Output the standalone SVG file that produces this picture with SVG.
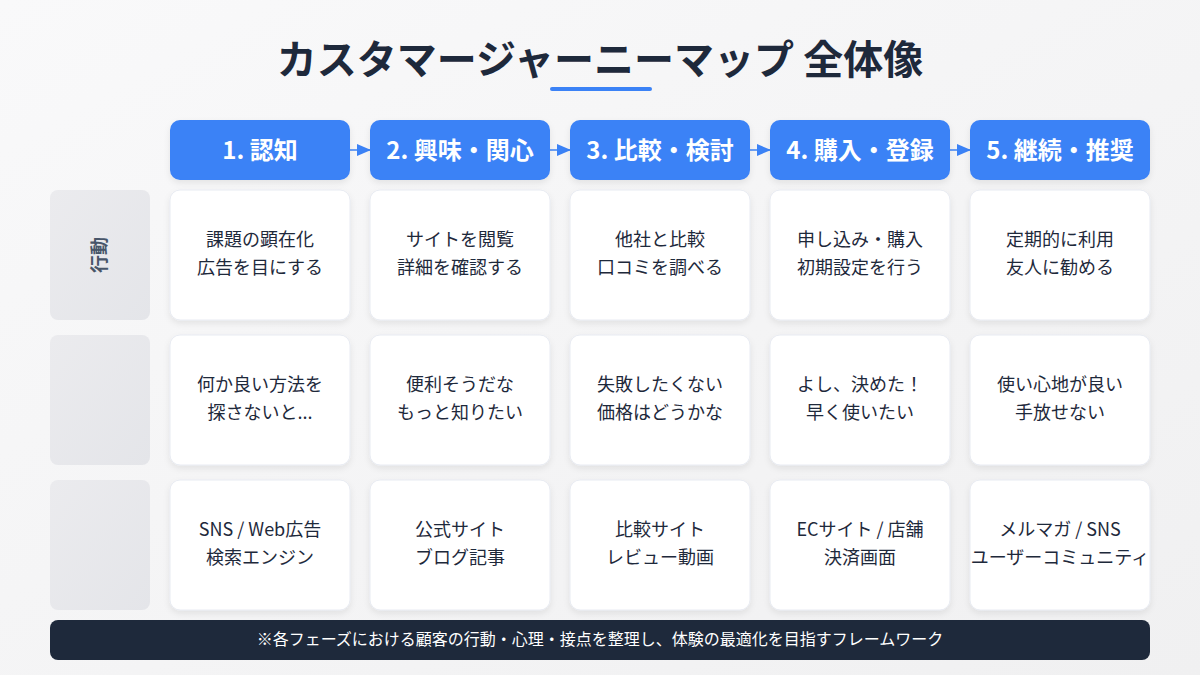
<svg xmlns="http://www.w3.org/2000/svg" width="1200" height="675" viewBox="0 0 1200 675">
<defs>
<linearGradient id="bg" x1="0" y1="0" x2="1" y2="1">
<stop offset="0" stop-color="#f9f9fa"/>
<stop offset="1" stop-color="#f0f0f1"/>
</linearGradient>
<linearGradient id="lab" x1="0" y1="0" x2="1" y2="1">
<stop offset="0" stop-color="#ebebee"/>
<stop offset="1" stop-color="#e4e5e9"/>
</linearGradient>
<filter id="sh" x="-10%" y="-10%" width="120%" height="125%">
<feDropShadow dx="0" dy="3" stdDeviation="3" flood-color="#000" flood-opacity="0.08"/>
</filter>
<marker id="arr" markerWidth="14" markerHeight="12" refX="13" refY="6" orient="auto" markerUnits="userSpaceOnUse">
<path d="M0,0 L14,6 L0,12 Z" fill="#3b82f6"/>
</marker>
<style>
.t{font-family:"Noto Sans CJK JP","Noto Sans",sans-serif;}
.title{font-size:40px;font-weight:700;fill:#1e293b;}
.hd{fill:#3b82f6;filter:url(#sh);}
.hdt{font-size:24px;font-weight:700;fill:#ffffff;}
.cell{fill:#ffffff;stroke:#e8ebf2;stroke-width:1;filter:url(#sh);}
.ct{font-size:18px;font-weight:400;fill:#1e293b;}
.lab{fill:url(#lab);}
.labt{font-size:18px;font-weight:700;fill:#475569;}
.conn{stroke:#3b82f6;stroke-width:1.5;fill:none;}
.ft{font-size:16px;fill:#ffffff;}
</style>
</defs>
<rect width="1200" height="675" fill="url(#bg)"/>
<g id="title">
<text class="t title" x="600" y="74" text-anchor="middle">カスタマージャーニーマップ 全体像</text>
<rect x="550" y="87" width="102" height="4" rx="2" fill="#3b82f6"/>
</g>
<g id="connectors">
<line class="conn" x1="350" y1="150" x2="370" y2="150" marker-end="url(#arr)"/>
<line class="conn" x1="550" y1="150" x2="570" y2="150" marker-end="url(#arr)"/>
<line class="conn" x1="750" y1="150" x2="770" y2="150" marker-end="url(#arr)"/>
<line class="conn" x1="950" y1="150" x2="970" y2="150" marker-end="url(#arr)"/>
</g>
<g id="phase1"><rect class="hd" x="170" y="120" width="180" height="60" rx="10"/><text class="t hdt" x="260" y="159" text-anchor="middle">1. 認知</text></g>
<g id="phase2"><rect class="hd" x="370" y="120" width="180" height="60" rx="10"/><text class="t hdt" x="460" y="159" text-anchor="middle">2. 興味・関心</text></g>
<g id="phase3"><rect class="hd" x="570" y="120" width="180" height="60" rx="10"/><text class="t hdt" x="660" y="159" text-anchor="middle">3. 比較・検討</text></g>
<g id="phase4"><rect class="hd" x="770" y="120" width="180" height="60" rx="10"/><text class="t hdt" x="860" y="159" text-anchor="middle">4. 購入・登録</text></g>
<g id="phase5"><rect class="hd" x="970" y="120" width="180" height="60" rx="10"/><text class="t hdt" x="1060" y="159" text-anchor="middle">5. 継続・推奨</text></g>
<g id="label-row1"><rect class="lab" x="50" y="190" width="100" height="130" rx="8"/><text class="t labt" transform="translate(100,255) rotate(-90)" x="0" y="6" text-anchor="middle">行動</text></g>
<g id="label-row2"><rect class="lab" x="50" y="335" width="100" height="130" rx="8"/></g>
<g id="label-row3"><rect class="lab" x="50" y="480" width="100" height="130" rx="8"/></g>
<g id="r1c1"><rect class="cell" x="170" y="190" width="180" height="130" rx="10"/><text class="t ct" x="260" y="246" text-anchor="middle">課題の顕在化</text><text class="t ct" x="260" y="274" text-anchor="middle">広告を目にする</text></g>
<g id="r1c2"><rect class="cell" x="370" y="190" width="180" height="130" rx="10"/><text class="t ct" x="460" y="246" text-anchor="middle">サイトを閲覧</text><text class="t ct" x="460" y="274" text-anchor="middle">詳細を確認する</text></g>
<g id="r1c3"><rect class="cell" x="570" y="190" width="180" height="130" rx="10"/><text class="t ct" x="660" y="246" text-anchor="middle">他社と比較</text><text class="t ct" x="660" y="274" text-anchor="middle">口コミを調べる</text></g>
<g id="r1c4"><rect class="cell" x="770" y="190" width="180" height="130" rx="10"/><text class="t ct" x="860" y="246" text-anchor="middle">申し込み・購入</text><text class="t ct" x="860" y="274" text-anchor="middle">初期設定を行う</text></g>
<g id="r1c5"><rect class="cell" x="970" y="190" width="180" height="130" rx="10"/><text class="t ct" x="1060" y="246" text-anchor="middle">定期的に利用</text><text class="t ct" x="1060" y="274" text-anchor="middle">友人に勧める</text></g>
<g id="r2c1"><rect class="cell" x="170" y="335" width="180" height="130" rx="10"/><text class="t ct" x="260" y="391" text-anchor="middle">何か良い方法を</text><text class="t ct" x="260" y="419" text-anchor="middle">探さないと...</text></g>
<g id="r2c2"><rect class="cell" x="370" y="335" width="180" height="130" rx="10"/><text class="t ct" x="460" y="391" text-anchor="middle">便利そうだな</text><text class="t ct" x="460" y="419" text-anchor="middle">もっと知りたい</text></g>
<g id="r2c3"><rect class="cell" x="570" y="335" width="180" height="130" rx="10"/><text class="t ct" x="660" y="391" text-anchor="middle">失敗したくない</text><text class="t ct" x="660" y="419" text-anchor="middle">価格はどうかな</text></g>
<g id="r2c4"><rect class="cell" x="770" y="335" width="180" height="130" rx="10"/><text class="t ct" x="860" y="391" text-anchor="middle">よし、決めた！</text><text class="t ct" x="860" y="419" text-anchor="middle">早く使いたい</text></g>
<g id="r2c5"><rect class="cell" x="970" y="335" width="180" height="130" rx="10"/><text class="t ct" x="1060" y="391" text-anchor="middle">使い心地が良い</text><text class="t ct" x="1060" y="419" text-anchor="middle">手放せない</text></g>
<g id="r3c1"><rect class="cell" x="170" y="480" width="180" height="130" rx="10"/><text class="t ct" x="260" y="536" text-anchor="middle">SNS / Web広告</text><text class="t ct" x="260" y="564" text-anchor="middle">検索エンジン</text></g>
<g id="r3c2"><rect class="cell" x="370" y="480" width="180" height="130" rx="10"/><text class="t ct" x="460" y="536" text-anchor="middle">公式サイト</text><text class="t ct" x="460" y="564" text-anchor="middle">ブログ記事</text></g>
<g id="r3c3"><rect class="cell" x="570" y="480" width="180" height="130" rx="10"/><text class="t ct" x="660" y="536" text-anchor="middle">比較サイト</text><text class="t ct" x="660" y="564" text-anchor="middle">レビュー動画</text></g>
<g id="r3c4"><rect class="cell" x="770" y="480" width="180" height="130" rx="10"/><text class="t ct" x="860" y="536" text-anchor="middle">ECサイト / 店舗</text><text class="t ct" x="860" y="564" text-anchor="middle">決済画面</text></g>
<g id="r3c5"><rect class="cell" x="970" y="480" width="180" height="130" rx="10"/><text class="t ct" x="1060" y="536" text-anchor="middle">メルマガ / SNS</text><text class="t ct" x="1060" y="564" text-anchor="middle">ユーザーコミュニティ</text></g>
<g id="footer"><rect x="50" y="620" width="1100" height="40" rx="8" fill="#1e293b"/><text class="t ft" x="600" y="645" text-anchor="middle">※各フェーズにおける顧客の行動・心理・接点を整理し、体験の最適化を目指すフレームワーク</text></g>
</svg>
